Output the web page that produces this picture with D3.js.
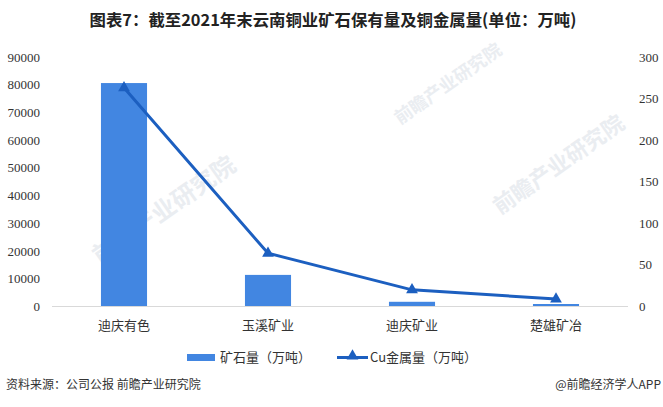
<!DOCTYPE html>
<html>
<head>
<meta charset="utf-8">
<script src="https://cdn.jsdelivr.net/npm/d3@7"></script>
<style>
  body { margin: 0; background: #fff; }
  svg text { font-family: "Noto Sans CJK SC", "Liberation Sans", sans-serif; }
</style>
</head>
<body>
<svg id="chart" width="663" height="407"></svg>
<script>
// data
var categories = ["迪庆有色", "玉溪矿业", "迪庆矿业", "楚雄矿冶"];
var oreValues = [80600, 11400, 1700, 900];   // 矿石量（万吨）
var cuValues = [263, 64, 20, 9];             // Cu金属量（万吨）
var leftTicks = [0, 10000, 20000, 30000, 40000, 50000, 60000, 70000, 80000, 90000];
var rightTicks = [0, 50, 100, 150, 200, 250, 300];

var svg = d3.select("#chart");
var barColor = "#4286e1", lineColor = "#1c5fc0";

var x = d3.scaleBand().domain(categories).range([52, 628]).paddingInner(0.68).paddingOuter(0.34);
var yL = d3.scaleLinear().domain([0, 90000]).range([306.5, 57]);
var yR = d3.scaleLinear().domain([0, 300]).range([306.5, 57]);

// faint watermarks
var wm = svg.append("g").attr("fill", "#eaedf1").attr("font-weight", "bold");
[[100, 265, 24], [400, 125, 18], [500, 215, 22]].forEach(function(w) {
  wm.append("text").attr("transform", "translate(" + w[0] + "," + w[1] + ") rotate(-35)")
    .attr("font-size", w[2]).text("前瞻产业研究院");
});

// title
svg.append("text").attr("x", 333).attr("y", 26).attr("text-anchor", "middle")
  .attr("font-size", 16.4).attr("font-weight", "bold").attr("fill", "#222")
  .text("图表7：截至2021年末云南铜业矿石保有量及铜金属量(单位：万吨)");

// left axis labels
svg.append("g").selectAll("text").data(leftTicks).join("text")
  .attr("x", 40).attr("y", function(d) { return yL(d); }).attr("dy", "0.35em")
  .attr("text-anchor", "end").attr("font-size", 13).attr("fill", "#333")
  .style("font-family", "'Liberation Serif', serif")
  .text(function(d) { return d; });

// right axis labels
svg.append("g").selectAll("text").data(rightTicks).join("text")
  .attr("x", 639).attr("y", function(d) { return yR(d); }).attr("dy", "0.35em")
  .attr("text-anchor", "start").attr("font-size", 13).attr("fill", "#333")
  .style("font-family", "'Liberation Serif', serif")
  .text(function(d) { return d; });

// bars
svg.append("g").selectAll("rect").data(oreValues).join("rect")
  .attr("x", function(d, i) { return x(categories[i]); })
  .attr("width", x.bandwidth())
  .attr("y", function(d) { return yL(d); })
  .attr("height", function(d) { return yL(0) - yL(d); })
  .attr("fill", barColor);

// baseline
svg.append("line").attr("x1", 52).attr("x2", 628).attr("y1", 306.5).attr("y2", 306.5)
  .attr("stroke", "#d9d9d9").attr("stroke-width", 1);

// category labels
svg.append("g").selectAll("text").data(categories).join("text")
  .attr("x", function(d) { return x(d) + x.bandwidth() / 2; }).attr("y", 330)
  .attr("text-anchor", "middle").attr("font-size", 13).attr("fill", "#333")
  .text(function(d) { return d; });

// line
var line = d3.line()
  .x(function(d, i) { return x(categories[i]) + x.bandwidth() / 2; })
  .y(function(d) { return yR(d); });
svg.append("path").datum(cuValues).attr("d", line)
  .attr("fill", "none").attr("stroke", lineColor).attr("stroke-width", 3);

var tri = d3.symbol().type(d3.symbolTriangle).size(60);
svg.append("g").selectAll("path").data(cuValues).join("path")
  .attr("d", tri)
  .attr("transform", function(d, i) {
    return "translate(" + (x(categories[i]) + x.bandwidth() / 2) + "," + yR(d) + ")";
  })
  .attr("fill", lineColor);

// legend
var lg = svg.append("g");
lg.append("rect").attr("x", 187).attr("y", 354).attr("width", 28).attr("height", 7).attr("fill", barColor);
lg.append("text").attr("x", 220).attr("y", 362).attr("font-size", 13).attr("fill", "#333").text("矿石量（万吨）");
lg.append("line").attr("x1", 337).attr("x2", 368).attr("y1", 357.5).attr("y2", 357.5)
  .attr("stroke", lineColor).attr("stroke-width", 3);
lg.append("path").attr("d", tri).attr("transform", "translate(352.5,356)").attr("fill", lineColor);
lg.append("text").attr("x", 370).attr("y", 362).attr("font-size", 13).attr("fill", "#333").text("Cu金属量（万吨）");

// footer
svg.append("text").attr("x", 6).attr("y", 389).attr("font-size", 12).attr("fill", "#333")
  .text("资料来源：公司公报 前瞻产业研究院");
svg.append("text").attr("x", 661).attr("y", 389).attr("text-anchor", "end").attr("font-size", 12).attr("fill", "#333")
  .text("@前瞻经济学人APP");
</script>
</body>
</html>
